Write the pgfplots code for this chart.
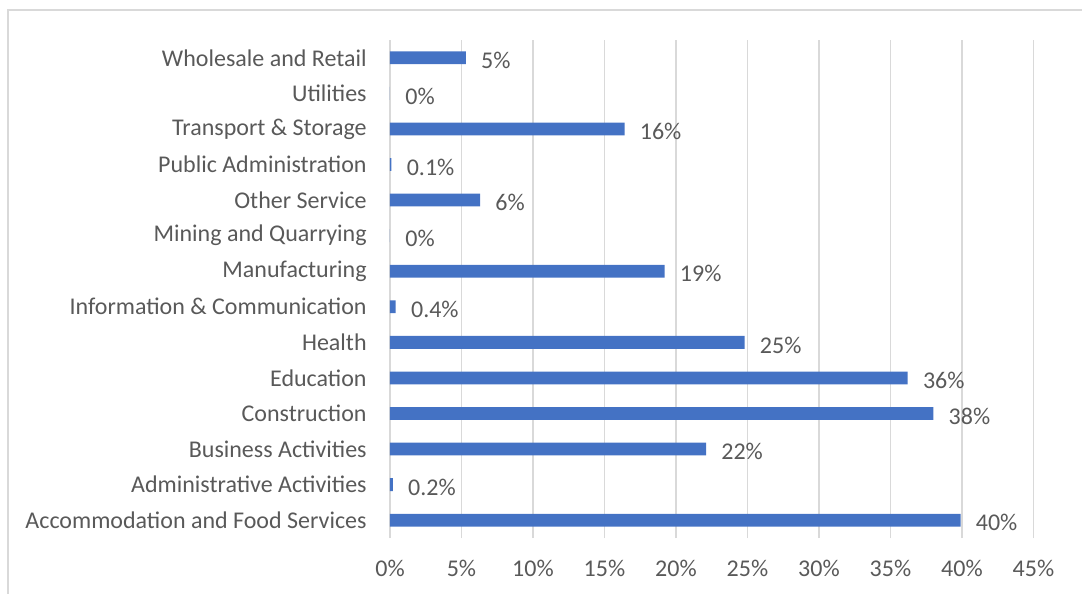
\documentclass[border=0pt]{standalone}
\usepackage{pgfplots}
\pgfplotsset{compat=1.18}
\usepackage{fontspec}
\setmainfont{Carlito}
\definecolor{barblue}{HTML}{4472C4}
\definecolor{txtgray}{HTML}{595959}
\definecolor{gridgray}{HTML}{D9D9D9}
\begin{document}
\begin{tikzpicture}[x=0.75pt,y=0.75pt]
% picture frame in px units relative to the axis' lower left corner
\useasboundingbox (-390,-55) rectangle (692,538);
\draw[gridgray,line width=1.1pt] (-382,-120) -- (-382,528) -- (800,528);
\begin{axis}[
    at={(0,0)}, anchor=south west,
    scale only axis,
    width=482.6pt, height=373.5pt,
    xbar, bar width=9.6pt,
    xmin=0, xmax=45,
    ymin=-0.5, ymax=13.5,
    xtick={0,5,...,45},
    xticklabel={\pgfmathprintnumber{\tick}\%},
    ytick={0,...,13},
    yticklabels={Accommodation and Food Services, Administrative Activities, Business Activities, Construction, Education, Health, Information \& Communication, Manufacturing, Mining and Quarrying, Other Service, Public Administration, Transport \& Storage, Utilities, Wholesale and Retail},
    axis line style={draw=none},
    major tick length=0pt,
    xmajorgrids, grid style={gridgray, line width=1.2pt},
    ticklabel style={font=\fontsize{18}{21}\selectfont, text=txtgray},
    yticklabel style={xshift=-14pt},
    xticklabel style={yshift=-13pt},
    /pgf/number format/assume math mode=true,
    nodes near coords={\pgfplotspointmeta},
    point meta=explicit symbolic,
    nodes near coords style={anchor=west, xshift=8pt, yshift=-2pt, font=\fontsize{18}{21}\selectfont, text=txtgray},
]
\addplot[draw=none, fill=barblue] coordinates {
    (39.9,0) [40\%]
    (0.2,1) [0.2\%]
    (22.1,2) [22\%]
    (38.0,3) [38\%]
    (36.2,4) [36\%]
    (24.8,5) [25\%]
    (0.4,6) [0.4\%]
    (19.2,7) [19\%]
    (0,8) [0\%]
    (6.3,9) [6\%]
    (0.1,10) [0.1\%]
    (16.4,11) [16\%]
    (0,12) [0\%]
    (5.3,13) [5\%]
};
\end{axis}
\end{tikzpicture}
\end{document}
